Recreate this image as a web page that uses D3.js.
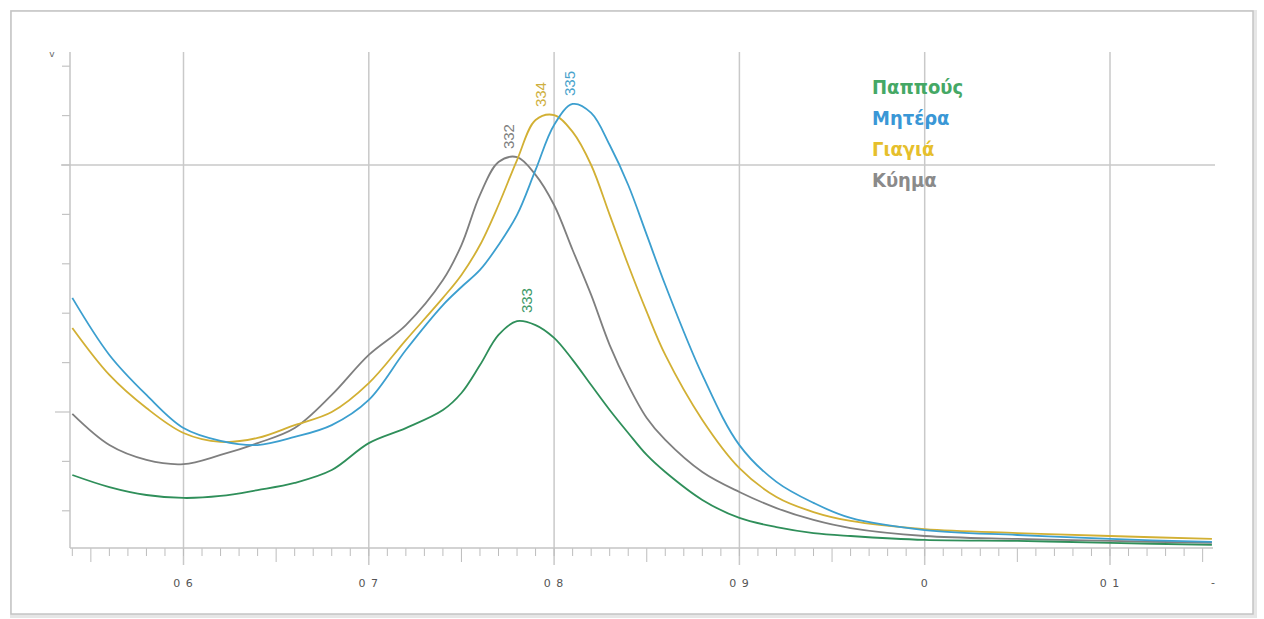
<!DOCTYPE html>
<html>
<head>
<meta charset="utf-8">
<script src="https://cdn.jsdelivr.net/npm/d3@7"></script>
<style>
  html, body { margin: 0; padding: 0; background: #fff; }
  svg { display: block; }
</style>
</head>
<body>
<svg id="chart" width="1264" height="619"></svg>
<script>
// ---------- data ----------
const xValues = [0.54,0.56,0.58,0.60,0.62,0.64,0.66,0.68,0.70,0.72,0.74,0.75,0.76,0.77,0.78,0.79,0.80,0.81,0.82,0.83,0.84,0.85,0.86,0.88,0.90,0.92,0.94,0.96,1.00,1.05,1.10,1.155];

const seriesNames = ["Παππούς", "Μητέρα", "Γιαγιά", "Κύημα"];
const peakLabels = ["333", "335", "334", "332"];

const pappous = [0.745,0.696,0.664,0.652,0.660,0.684,0.713,0.765,0.874,0.935,1.008,1.077,1.190,1.312,1.368,1.352,1.300,1.211,1.109,1.008,0.915,0.826,0.757,0.644,0.571,0.534,0.510,0.498,0.482,0.478,0.470,0.462];
const mitera  = [1.462,1.231,1.069,0.935,0.883,0.866,0.899,0.947,1.049,1.251,1.433,1.506,1.575,1.676,1.798,1.980,2.162,2.247,2.211,2.081,1.919,1.717,1.514,1.150,0.866,0.717,0.632,0.571,0.522,0.502,0.486,0.474];
const giagia  = [1.340,1.150,1.016,0.915,0.879,0.895,0.947,1.000,1.117,1.291,1.462,1.555,1.676,1.838,2.020,2.182,2.202,2.134,2.000,1.798,1.595,1.405,1.231,0.968,0.773,0.656,0.595,0.559,0.526,0.510,0.498,0.486];
const kyima   = [0.992,0.866,0.806,0.789,0.826,0.874,0.935,1.069,1.231,1.352,1.534,1.676,1.879,2.012,2.032,1.960,1.838,1.656,1.474,1.271,1.109,0.976,0.887,0.757,0.676,0.611,0.563,0.530,0.498,0.486,0.478,0.470];

const xTickValues = [0.6, 0.7, 0.8, 0.9, 1.0, 1.1];
const xTickLabels = ["0 6", "0 7", "0 8", "0 9", "0", "0 1"];
const yTickValues = [0.6,0.8,1.0,1.2,1.4,1.6,1.8,2.0,2.2,2.4];

// ---------- styles ----------
const lineColors  = ["#2f8f5a", "#3c9fcf", "#d2b034", "#7f7f7f"];
const labelColors = ["#3f9a68", "#4aa3cc", "#cfb040", "#7f7f7f"];
const textColors  = ["#45a865", "#3a97d6", "#e6bf2c", "#8a8a8a"];
const labelOffsets = [10, -3, -13, -8];
const drawOrder = [3, 2, 1, 0];

const svg = d3.select("#chart");

// frame
svg.append("rect").attr("x", 12).attr("y", 12).attr("width", 1243).attr("height", 604)
  .attr("fill", "none").attr("stroke", "#e6e6e6").attr("stroke-width", 4);
svg.append("rect").attr("x", 11).attr("y", 11).attr("width", 1242).attr("height", 603)
  .attr("fill", "#fff").attr("stroke", "#c4c4c4").attr("stroke-width", 1.5);

const pLeft = 70, pRight = 1213, pTop = 52, pBottom = 548;

const x = d3.scaleLinear().domain([0.6, 1.1]).range([183.5, 1110]);
const y = d3.scaleLinear().domain([1.0, 2.0]).range([412, 165]);

const gridColor = "#c9c9c9";

// vertical gridlines
svg.append("g").selectAll("line").data(xTickValues).join("line")
  .attr("x1", d => x(d)).attr("x2", d => x(d))
  .attr("y1", pTop).attr("y2", pBottom + 17)
  .attr("stroke", gridColor).attr("stroke-width", 1.5);

// horizontal gridline at 2.0
svg.append("line").attr("x1", pLeft - 9).attr("x2", pRight + 2)
  .attr("y1", y(2.0)).attr("y2", y(2.0))
  .attr("stroke", gridColor).attr("stroke-width", 1.5);

// x minor ticks
const xMinor = d3.range(-6, 56).map(i => 0.6 + i * 0.01).filter(v => x(v) >= pLeft - 0.5 && x(v) <= pRight + 0.5);
svg.append("g").selectAll("line").data(xMinor).join("line")
  .attr("x1", d => x(d)).attr("x2", d => x(d))
  .attr("y1", pBottom)
  .attr("y2", d => {
    const k = Math.round(d * 100) % 10;
    return pBottom + (k === 5 ? 14 : 8);
  })
  .attr("stroke", "#bdbdbd").attr("stroke-width", 1);

// x axis line
svg.append("line").attr("x1", pLeft).attr("x2", pRight).attr("y1", pBottom).attr("y2", pBottom)
  .attr("stroke", "#c4c4c4").attr("stroke-width", 1.5);

// x tick labels
svg.append("g").selectAll("text").data(xTickValues).join("text")
  .attr("x", (d) => x(d)).attr("y", 587)
  .attr("text-anchor", "middle")
  .attr("font-family", "DejaVu Sans, sans-serif").attr("font-size", 11)
  .attr("letter-spacing", 1)
  .attr("fill", "#555")
  .text((d, i) => xTickLabels[i]);
svg.append("text").attr("x", pRight).attr("y", 586).attr("text-anchor", "middle")
  .attr("font-family", "DejaVu Sans, sans-serif").attr("font-size", 11).attr("fill", "#555").text("-");

// y axis line
svg.append("line").attr("x1", pLeft).attr("x2", pLeft).attr("y1", pTop).attr("y2", pBottom)
  .attr("stroke", "#c4c4c4").attr("stroke-width", 1.5);

// y ticks
svg.append("g").selectAll("line").data(yTickValues).join("line")
  .attr("x1", d => (Math.abs(d - 1.0) < 1e-6) ? pLeft - 15 : pLeft - 8)
  .attr("x2", pLeft)
  .attr("y1", d => y(d)).attr("y2", d => y(d))
  .attr("stroke", "#c4c4c4").attr("stroke-width", 1.2);

svg.append("text").attr("x", 52).attr("y", 57).attr("text-anchor", "middle")
  .attr("font-family", "DejaVu Sans, sans-serif").attr("font-size", 9).attr("fill", "#666").text("v");

// curves
const allSeries = [pappous, mitera, giagia, kyima];
const line = d3.line().x((d, i) => x(xValues[i])).y(d => y(d)).curve(d3.curveCatmullRom.alpha(0.5));

drawOrder.forEach(si => {
  svg.append("path").datum(allSeries[si])
    .attr("fill", "none").attr("stroke", lineColors[si]).attr("stroke-width", 1.8)
    .attr("stroke-linejoin", "round")
    .attr("d", line);
});

// peak labels
allSeries.forEach((s, si) => {
  const idx = d3.maxIndex(s);
  const px = x(xValues[idx]) + labelOffsets[si];
  const py = y(s[idx]) - 8;
  svg.append("text")
    .attr("transform", `translate(${px},${py}) rotate(-90)`)
    .attr("dy", "0.35em")
    .attr("font-family", "'Liberation Sans', Arial, sans-serif").attr("font-size", 15)
    .attr("fill", labelColors[si])
    .text(peakLabels[si]);
});

// legend
svg.append("g").selectAll("text").data(seriesNames).join("text")
  .attr("x", 872).attr("y", (d, i) => 94 + i * 31)
  .attr("font-family", "'Liberation Sans Narrow', 'DejaVu Sans Condensed', sans-serif")
  .attr("font-size", 20).attr("font-weight", "bold")
  .attr("fill", (d, i) => textColors[i])
  .text(d => d);
</script>
</body>
</html>
